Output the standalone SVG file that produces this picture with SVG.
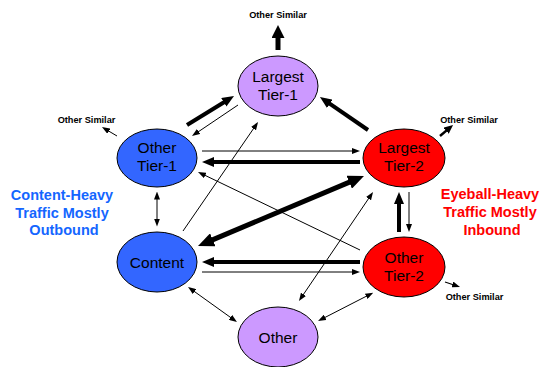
<svg xmlns="http://www.w3.org/2000/svg" width="544" height="367" viewBox="0 0 544 367">
  <style>
    .node ellipse { stroke: #000; stroke-width: 1; }
    .blue ellipse { fill: #3366FF; }
    .red ellipse { fill: #FF0000; }
    .purple ellipse { fill: #CC99FF; }
    .node text { font-family: "Liberation Sans", Arial, sans-serif; font-size: 15.5px; fill: #000; text-anchor: middle; }
    .small { font-family: "Liberation Sans", Arial, sans-serif; font-size: 9.2px; font-weight: bold; fill: #000; text-anchor: middle; }
    .side { font-family: "Liberation Sans", Arial, sans-serif; font-size: 14.5px; font-weight: bold; text-anchor: middle; }
    .thin { stroke: #000; stroke-width: 1; fill: none; }
    .thick { stroke: #000; stroke-width: 4; fill: none; }
    .big { stroke: #000; stroke-width: 5; fill: none; }
  </style>
  <defs>
    <marker id="ah-thin" markerUnits="userSpaceOnUse" markerWidth="8" markerHeight="6" refX="4" refY="3" orient="auto-start-reverse">
      <path d="M0,0 L8,3 L0,6 z" fill="#000"/>
    </marker>
    <marker id="ah-mid" markerUnits="userSpaceOnUse" markerWidth="9" markerHeight="8" refX="4.5" refY="4" orient="auto-start-reverse">
      <path d="M0,0 L9,4 L0,8 z" fill="#000"/>
    </marker>
    <marker id="ah-thick" markerUnits="userSpaceOnUse" markerWidth="12" markerHeight="10" refX="6" refY="5" orient="auto-start-reverse">
      <path d="M0,0 L12,5 L0,10 z" fill="#000"/>
    </marker>
    <marker id="ah-top" markerUnits="userSpaceOnUse" markerWidth="13" markerHeight="13" refX="6.5" refY="6.5" orient="auto-start-reverse">
      <path d="M0,0 L13,6.5 L0,13 z" fill="#000"/>
    </marker>
    <marker id="ah-big" markerUnits="userSpaceOnUse" markerWidth="16" markerHeight="14" refX="8" refY="7" orient="auto-start-reverse">
      <path d="M0,0 L16,7 L0,14 z" fill="#000"/>
    </marker>
  </defs>

  <!-- connectors -->
  <g id="connectors">
    <!-- Other Tier-1 / Largest Tier-1 -->
    <line class="thick" x1="187" y1="125" x2="228.9" y2="99.2" marker-end="url(#ah-thick)"/>
    <line class="thin" x1="238" y1="105" x2="195.3" y2="133.8" marker-end="url(#ah-thin)"/>
    <!-- Largest Tier-2 to Largest Tier-1 -->
    <line class="thick" x1="368" y1="130" x2="324.9" y2="100.4" marker-end="url(#ah-thick)"/>
    <!-- Other Tier-1 / Largest Tier-2 -->
    <line class="thin" x1="202" y1="151" x2="356" y2="151" marker-end="url(#ah-thin)"/>
    <line class="thick" x1="360" y1="162" x2="208" y2="162" marker-end="url(#ah-thick)"/>
    <!-- Content / Other Tier-2 -->
    <line class="thick" x1="360" y1="262" x2="208" y2="262" marker-end="url(#ah-thick)"/>
    <line class="thin" x1="202" y1="272" x2="356" y2="272" marker-end="url(#ah-thin)"/>
    <!-- Other Tier-1 / Content -->
    <line class="thin" x1="157" y1="195.5" x2="157" y2="222.5" marker-start="url(#ah-thin)" marker-end="url(#ah-thin)"/>
    <!-- Largest Tier-2 / Other Tier-2 -->
    <line class="thick" x1="399" y1="232" x2="399" y2="198" marker-end="url(#ah-thick)"/>
    <line class="thin" x1="409" y1="192" x2="409" y2="228" marker-end="url(#ah-thin)"/>
    <!-- Content / Largest Tier-2 -->
    <line class="big" x1="205.4" y1="242.9" x2="356.6" y2="179.1" marker-start="url(#ah-big)" marker-end="url(#ah-big)"/>
    <!-- Other Tier-2 to Other Tier-1 -->
    <line class="thin" x1="360" y1="250" x2="201.6" y2="173.7" marker-end="url(#ah-thin)"/>
    <!-- Content to Largest Tier-1 -->
    <line class="thin" x1="183" y1="231" x2="255.8" y2="125.3" marker-end="url(#ah-thin)"/>
    <!-- Other / Largest Tier-2 -->
    <line class="thin" x1="301.2" y1="297.7" x2="370.8" y2="195.3" marker-start="url(#ah-thin)" marker-end="url(#ah-thin)"/>
    <!-- Content / Other -->
    <line class="thin" x1="191.3" y1="289.3" x2="233.7" y2="319.7" marker-start="url(#ah-thin)" marker-end="url(#ah-thin)"/>
    <!-- Other / Other Tier-2 -->
    <line class="thin" x1="321.6" y1="319.2" x2="369.7" y2="294.5" marker-start="url(#ah-thin)" marker-end="url(#ah-thin)"/>

    <!-- outward peering arrows -->
    <line stroke="#000" stroke-width="5" x1="278" y1="50" x2="278" y2="31.5" marker-end="url(#ah-top)"/>
    <line class="thin" x1="117" y1="136" x2="105.4" y2="129.1" marker-end="url(#ah-thin)"/>
    <line stroke="#000" stroke-width="2.5" x1="440" y1="136" x2="449.6" y2="127.9" marker-end="url(#ah-mid)"/>
    <line stroke="#000" stroke-width="1.2" x1="445" y1="282" x2="456.2" y2="285.7" marker-end="url(#ah-thin)"/>
  </g>

  <!-- nodes -->
  <g id="largest-tier-1" class="node purple">
    <ellipse cx="278" cy="86" rx="40" ry="30"/>
    <text x="278" y="82">Largest</text>
    <text x="278" y="100">Tier-1</text>
  </g>
  <g id="other-tier-1" class="node blue">
    <ellipse cx="157" cy="158" rx="40" ry="29"/>
    <text x="157" y="153">Other</text>
    <text x="157" y="171">Tier-1</text>
  </g>
  <g id="largest-tier-2" class="node red">
    <ellipse cx="404" cy="158" rx="41" ry="29"/>
    <text x="404" y="153">Largest</text>
    <text x="404" y="171">Tier-2</text>
  </g>
  <g id="content" class="node blue">
    <ellipse cx="157" cy="262" rx="40" ry="30"/>
    <text x="157" y="267.5">Content</text>
  </g>
  <g id="other-tier-2" class="node red">
    <ellipse cx="404" cy="267" rx="41" ry="30"/>
    <text x="404" y="263">Other</text>
    <text x="404" y="281">Tier-2</text>
  </g>
  <g id="other" class="node purple">
    <ellipse cx="278" cy="337" rx="40" ry="30"/>
    <text x="278" y="343">Other</text>
  </g>

  <!-- labels -->
  <text class="small" x="278" y="18">Other Similar</text>
  <text class="small" x="86.5" y="123">Other Similar</text>
  <text class="small" x="469" y="123">Other Similar</text>
  <text class="small" x="474.5" y="300">Other Similar</text>

  <text class="side" fill="#1466FF">
    <tspan x="64" y="200">Content-Heavy</tspan>
    <tspan x="64" y="217.5">Traffic Mostly</tspan>
    <tspan x="64" y="235">Outbound</tspan>
  </text>
  <text class="side" fill="#FF0000">
    <tspan x="492" y="199">Eyeball-Heavy</tspan>
    <tspan x="492" y="217">Traffic Mostly</tspan>
    <tspan x="492" y="235">Inbound</tspan>
  </text>
</svg>
